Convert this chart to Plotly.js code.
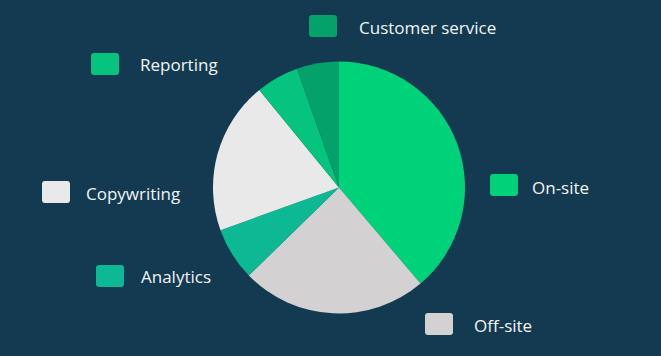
<!DOCTYPE html>
<html>
<head>
<meta charset="utf-8">
<script src="https://cdn.plot.ly/plotly-3.0.1.min.js"></script>
<style>
html,body{margin:0;padding:0;background:#133a50;}
#chart{width:661px;height:356px;}
</style>
</head>
<body>
<div id="chart"></div>
<script>
// Data
var labels = ["On-site", "Off-site", "Analytics", "Copywriting", "Reporting", "Customer service"];
var values = [38.8, 23.9, 6.8, 19.6, 5.5, 5.4];
var colors = ["#00d27a", "#d3d1d2", "#0db894", "#e9e9e9", "#06c47e", "#05a16a"];

// Legend item layout (pixel positions of the square's top-left corner and the label start)
var W = 661, H = 356;
var legendPos = {
  "On-site":          {sx: 490, sy: 174, tx: 530, ty: 187.5},
  "Off-site":         {sx: 425, sy: 313, tx: 472, ty: 325},
  "Analytics":        {sx: 96,  sy: 265, tx: 139, ty: 276.5},
  "Copywriting":      {sx: 42,  sy: 181, tx: 84,  ty: 193},
  "Reporting":        {sx: 91,  sy: 53,  tx: 138, ty: 64},
  "Customer service": {sx: 309, sy: 15,  tx: 357, ty: 27}
};
var boxW = 28, boxH = 22, rad = 3;

function px(x){ return x / W; }
function py(y){ return 1 - y / H; }

function roundedRect(x, y, w, h, r){
  var p = [];
  p.push("M " + px(x + r) + "," + py(y));
  p.push("L " + px(x + w - r) + "," + py(y));
  p.push("Q " + px(x + w) + "," + py(y) + " " + px(x + w) + "," + py(y + r));
  p.push("L " + px(x + w) + "," + py(y + h - r));
  p.push("Q " + px(x + w) + "," + py(y + h) + " " + px(x + w - r) + "," + py(y + h));
  p.push("L " + px(x + r) + "," + py(y + h));
  p.push("Q " + px(x) + "," + py(y + h) + " " + px(x) + "," + py(y + h - r));
  p.push("L " + px(x) + "," + py(y + r));
  p.push("Q " + px(x) + "," + py(y) + " " + px(x + r) + "," + py(y));
  p.push("Z");
  return p.join(" ");
}

var shapes = [], annotations = [];
labels.forEach(function(lab, i){
  var lp = legendPos[lab];
  shapes.push({
    type: "path", xref: "paper", yref: "paper",
    path: roundedRect(lp.sx, lp.sy, boxW, boxH, rad),
    fillcolor: colors[i], line: {width: 0}
  });
  annotations.push({
    xref: "paper", yref: "paper", x: px(lp.tx), y: py(lp.ty),
    xanchor: "left", yanchor: "middle", showarrow: false,
    text: lab,
    font: {family: "Open Sans, sans-serif", size: 17, color: "#f2f4f5"}
  });
});

var cx = 339, cy = 187.5, R = 126;
var trace = {
  type: "pie",
  labels: labels,
  values: values,
  sort: false,
  direction: "clockwise",
  rotation: 0,
  marker: {colors: colors, line: {width: 0}},
  textinfo: "none",
  hoverinfo: "label+value",
  showlegend: false,
  domain: {x: [px(cx - R), px(cx + R)], y: [py(cy + R), py(cy - R)]}
};

var layout = {
  width: W, height: H,
  margin: {l: 0, r: 0, t: 0, b: 0},
  paper_bgcolor: "#133a50",
  plot_bgcolor: "#133a50",
  showlegend: false,
  shapes: shapes,
  annotations: annotations
};

Plotly.newPlot("chart", [trace], layout, {displayModeBar: false, staticPlot: true});
</script>
</body>
</html>
